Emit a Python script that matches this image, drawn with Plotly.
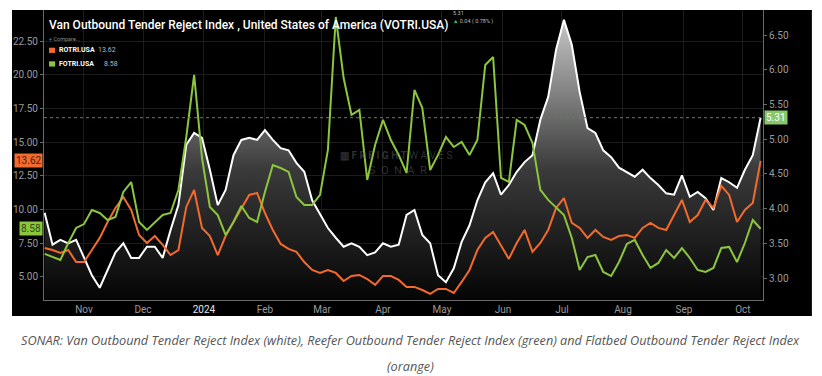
import pandas as pd
import plotly.graph_objects as go

# ---------------- data (~every 4 days) ----------------
dates = pd.date_range("2023-10-12", periods=92, freq="4D")

votri = [3.94, 3.48, 3.55, 3.50, 3.55, 3.30, 3.04, 2.86, 3.12, 3.37,
         3.50, 3.29, 3.29, 3.45, 3.45, 3.29, 3.69, 4.05, 4.92, 5.09,
         5.02, 4.56, 4.05, 4.27, 4.77, 4.99, 5.02, 4.99, 5.13, 4.99,
         4.87, 4.84, 4.66, 4.53, 4.12, 3.91, 3.72, 3.58, 3.45, 3.50,
         3.45, 3.33, 3.37, 3.50, 3.45, 3.48, 3.91, 3.98, 3.62, 3.50,
         3.04, 2.94, 3.14, 3.52, 3.76, 4.12, 4.38, 4.51, 4.20, 4.34,
         4.53, 4.67, 4.77, 5.28, 5.61, 6.29, 6.72, 6.36, 5.68, 5.16,
         5.09, 4.84, 4.74, 4.59, 4.53, 4.46, 4.56, 4.44, 4.34, 4.22,
         4.20, 4.48, 4.17, 4.24, 4.15, 3.98, 4.44, 4.38, 4.30, 4.56,
         4.77, 5.31]

rotri = [7.15, 7.00, 6.78, 7.00, 6.11, 6.11, 7.00, 7.90, 9.08, 10.12,
         10.94, 9.97, 8.12, 7.52, 8.04, 7.38, 6.63, 7.00, 10.20, 11.46,
         8.64, 8.04, 6.63, 8.04, 9.08, 10.05, 11.09, 11.24, 9.75, 8.49,
         7.45, 7.08, 6.86, 6.11, 5.52, 5.30, 5.52, 5.30, 4.70, 5.07,
         5.15, 4.85, 4.41, 5.07, 5.07, 4.78, 4.26, 4.26, 4.03, 3.74,
         4.11, 4.11, 3.81, 4.63, 5.52, 7.00, 7.90, 8.34, 7.38, 6.34,
         7.52, 8.49, 6.86, 7.52, 8.49, 10.12, 10.86, 9.01, 8.64, 7.90,
         8.49, 7.97, 7.75, 8.04, 8.12, 7.90, 8.64, 9.01, 8.64, 8.49,
         9.60, 10.72, 9.08, 9.60, 10.72, 10.12, 11.76, 11.09, 9.08, 9.97,
         10.49, 13.62]

fotri = [6.71, 6.48, 6.26, 7.52, 8.64, 8.93, 9.97, 9.75, 9.23, 9.45,
         11.31, 12.05, 9.08, 8.49, 9.08, 9.60, 9.75, 11.46, 15.39, 20.00,
         13.83, 10.20, 9.60, 8.12, 9.08, 10.27, 9.38, 9.08, 11.31, 13.31,
         13.09, 12.80, 10.94, 10.35, 10.35, 11.09, 14.43, 24.30, 19.77, 17.03,
         17.40, 12.20, 14.80, 16.66, 15.17, 14.06, 12.72, 18.88, 17.55, 12.94,
         14.06, 15.39, 14.65, 15.02, 14.06, 15.17, 20.74, 21.33, 12.35, 12.05,
         16.66, 16.28, 14.95, 11.46, 10.72, 10.12, 9.60, 7.90, 5.52, 6.48,
         6.63, 5.37, 5.07, 6.11, 7.45, 7.75, 6.63, 5.67, 6.04, 7.00,
         6.41, 7.15, 6.41, 5.52, 5.37, 5.67, 7.15, 7.23, 6.11, 7.52,
         9.23, 8.58]

month_ticks = ["2023-11-01", "2023-12-01", "2024-01-01", "2024-02-01", "2024-03-01",
               "2024-04-01", "2024-05-01", "2024-06-01", "2024-07-01", "2024-08-01",
               "2024-09-01", "2024-10-01"]
month_labels = ["Nov", "Dec", "<span style='color:#e6e6e6'>2024</span>", "Feb", "Mar",
                "Apr", "May", "Jun", "Jul", "Aug", "Sep", "Oct"]
left_ticks = [5.0, 7.5, 10.0, 12.5, 15.0, 17.5, 20.0, 22.5]
right_ticks = [3.0, 3.5, 4.0, 4.5, 5.0, 5.5, 6.0, 6.5]

ORANGE = "#f26a2e"
GREEN = "#8cc63f"
FONT = "Roboto"

fig = go.Figure()

# white series (van) on primary axis (right side), with gradient fill
fig.add_trace(go.Scatter(
    x=dates, y=votri, yaxis="y", mode="lines",
    line=dict(color="rgba(0,0,0,0)", width=0),
    fill="tozeroy",
    fillgradient=dict(type="vertical",
                      colorscale=[[0, "#050505"], [0.45, "#3a3a3a"], [1, "#cfcfcf"]],
                      start=2.68, stop=6.86),
    hoverinfo="skip", showlegend=False))
fig.add_trace(go.Scatter(
    x=dates, y=votri, yaxis="y", mode="lines",
    line=dict(color="#ffffff", width=2), name="VOTRI.USA", showlegend=False))

# orange + green on the overlaying left axis
fig.add_trace(go.Scatter(
    x=dates, y=rotri, yaxis="y2", mode="lines",
    line=dict(color=ORANGE, width=2), name="ROTRI.USA", showlegend=False))
fig.add_trace(go.Scatter(
    x=dates, y=fotri, yaxis="y2", mode="lines",
    line=dict(color=GREEN, width=2), name="FOTRI.USA", showlegend=False))

axis_common = dict(showline=True, linecolor="#6a6a6a", linewidth=1,
                   tickfont=dict(family=FONT, size=10, color="#9a9a9a"),
                   zeroline=False)

fig.update_layout(
    width=822, height=376,
    margin=dict(l=44, r=59, t=10, b=76),
    paper_bgcolor="white",
    plot_bgcolor="black",
    font=dict(family=FONT),
    xaxis=dict(type="date", range=["2023-10-11 16:00", "2024-10-11 05:00"],
               tickvals=month_ticks, ticktext=month_labels,
               showgrid=True, gridcolor="#1c1c1c", gridwidth=1,
               ticks="", **axis_common),
    yaxis=dict(side="right", range=[2.683, 6.862], tickvals=right_ticks,
               tickformat=".2f", showgrid=False,
               ticks="outside", ticklen=3, tickcolor="#6a6a6a",
               **axis_common),
    yaxis2=dict(side="left", overlaying="y", range=[3.29, 24.82],
                tickvals=left_ticks, tickformat=".2f",
                showgrid=True, gridcolor="#1c1c1c", gridwidth=1,
                ticks="outside", ticklen=3, tickcolor="#6a6a6a",
                **axis_common),
    hovermode=False,
)

shapes = [
    # black card behind the chart
    dict(type="rect", xref="paper", yref="paper", x0=-0.0445, x1=1.068, y0=-0.055, y1=1.0,
         fillcolor="black", line=dict(width=0), layer="below"),
    # dashed last-value line of the van index
    dict(type="line", xref="paper", yref="y", x0=0, x1=1, y0=votri[-1], y1=votri[-1],
         line=dict(color="#5c8a40", width=1, dash="dot")),
    # legend swatches
    dict(type="rect", xref="paper", yref="paper", x0=0.007, x1=0.0155, y0=0.852, y1=0.870,
         fillcolor=ORANGE, line=dict(width=0)),
    dict(type="rect", xref="paper", yref="paper", x0=0.007, x1=0.0155, y0=0.805, y1=0.823,
         fillcolor=GREEN, line=dict(width=0)),
]

annotations = [
    dict(text="Van Outbound Tender Reject Index , United States of America (VOTRI.USA)",
         xref="paper", yref="paper", x=0.004, y=0.948, xanchor="left", yanchor="middle",
         showarrow=False, font=dict(family=FONT, size=12, color="white", weight=500)),
    dict(text="5.31", xref="paper", yref="paper", x=0.566, y=0.99, xanchor="left",
         yanchor="middle", showarrow=False, font=dict(family=FONT, size=5.5, color="#bbbbbb")),
    dict(text="<span style='color:#3fbf6f'>▲</span> 0.04 ( 0.78% )", xref="paper", yref="paper",
         x=0.566, y=0.962, xanchor="left", yanchor="middle", showarrow=False,
         font=dict(family=FONT, size=5.5, color="#bbbbbb")),
    dict(text="<span style='color:#3d8bff'>+</span> Compare...", xref="paper", yref="paper",
         x=0.004, y=0.9, xanchor="left", yanchor="middle", showarrow=False,
         font=dict(family=FONT, size=5.5, color="#8a8a8a")),
    dict(text="<b>ROTRI.USA</b>", xref="paper", yref="paper", x=0.018, y=0.861,
         xanchor="left", yanchor="middle", showarrow=False,
         font=dict(family=FONT, size=7, color="white")),
    dict(text=f"{rotri[-1]:.2f}", xref="paper", yref="paper", x=0.073, y=0.861,
         xanchor="left", yanchor="middle", showarrow=False,
         font=dict(family=FONT, size=7, color="#bbbbbb")),
    dict(text="<b>FOTRI.USA</b>", xref="paper", yref="paper", x=0.018, y=0.814,
         xanchor="left", yanchor="middle", showarrow=False,
         font=dict(family=FONT, size=7, color="white")),
    dict(text=f"{fotri[-1]:.2f}", xref="paper", yref="paper", x=0.080, y=0.814,
         xanchor="left", yanchor="middle", showarrow=False,
         font=dict(family=FONT, size=7, color="#bbbbbb")),
    # watermark
    dict(text="<b>▥ F R E I G H T</b> W A V E S", xref="paper", yref="paper", x=0.49, y=0.500,
         xanchor="center", yanchor="middle", showarrow=False,
         font=dict(family=FONT, size=10, color="rgba(110,110,110,0.45)")),
    dict(text="S  O  N  A  R", xref="paper", yref="paper", x=0.492, y=0.445,
         xanchor="center", yanchor="middle", showarrow=False,
         font=dict(family=FONT, size=11, color="rgba(110,110,110,0.45)")),
    # last-value labels
    dict(text=f"{rotri[-1]:.2f}", xref="paper", yref="y2", x=0, y=rotri[-1],
         xanchor="right", yanchor="middle", xshift=-1, showarrow=False,
         bgcolor=ORANGE, borderpad=1,
         font=dict(family=FONT, size=10, color="#4a1e08")),
    dict(text=f"{fotri[-1]:.2f}", xref="paper", yref="y2", x=0, y=fotri[-1],
         xanchor="right", yanchor="middle", xshift=-1, showarrow=False,
         bgcolor=GREEN, borderpad=1,
         font=dict(family=FONT, size=10, color="#2e4a10")),
    dict(text=f"{votri[-1]:.2f}", xref="paper", yref="y", x=1, y=votri[-1],
         xanchor="left", yanchor="middle", xshift=1, showarrow=False,
         bgcolor="#86c86a", borderpad=1,
         font=dict(family=FONT, size=10, color="white")),
    # caption
    dict(text="<i>SONAR: Van Outbound Tender Reject Index (white), Reefer Outbound Tender Reject Index (green) and Flatbed Outbound Tender Reject Index</i>",
         xref="paper", yref="paper", x=0.51, y=-0.138, xanchor="center", yanchor="middle",
         showarrow=False, font=dict(family="Open Sans", size=12.7, color="#555555")),
    dict(text="<i>(orange)</i>",
         xref="paper", yref="paper", x=0.51, y=-0.228, xanchor="center", yanchor="middle",
         showarrow=False, font=dict(family="Open Sans", size=12.7, color="#555555")),
]

fig.update_layout(shapes=shapes, annotations=annotations)
fig.write_html("out.html", config={"displayModeBar": False},
               post_script="document.body.style.margin='0px';document.body.style.overflow='hidden';")
